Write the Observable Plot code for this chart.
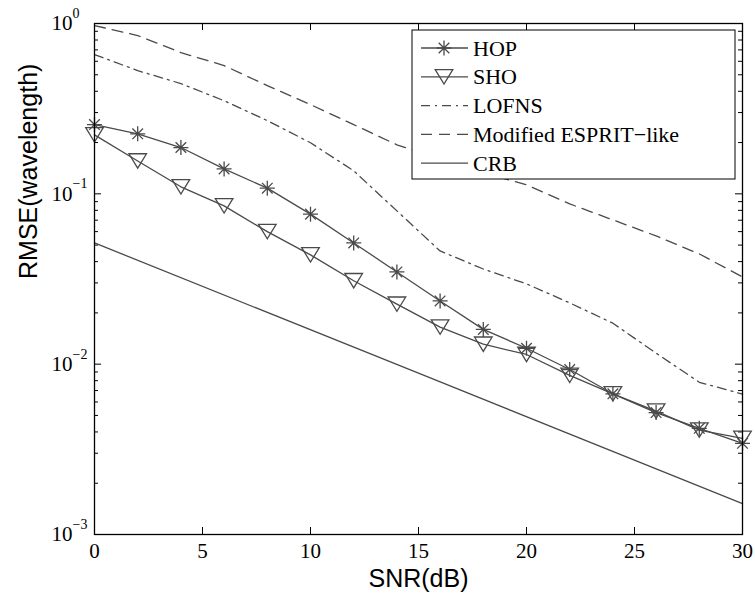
<!DOCTYPE html>
<html><head><meta charset="utf-8">
<script src="https://cdn.jsdelivr.net/npm/d3@7"></script>
<script src="https://cdn.jsdelivr.net/npm/@observablehq/plot@0.6"></script>
<style>body{margin:0;background:#fff}</style>
</head><body><div id="chart"></div>
<script>
// ---- data ----
const snr    = [0, 2, 4, 6, 8, 10, 12, 14, 16, 18, 20, 22, 24, 26, 28, 30];
const hop    = [0.255, 0.225, 0.187, 0.140, 0.108, 0.076, 0.0515, 0.0348, 0.0235, 0.0160, 0.0124, 0.0093, 0.0067, 0.0052, 0.0042, 0.00343];
const sho    = [0.222, 0.156, 0.110, 0.085, 0.060, 0.0438, 0.0309, 0.0225, 0.0165, 0.0131, 0.0114, 0.0086, 0.0067, 0.0053, 0.0041, 0.00367];
const lofns  = [0.657, 0.529, 0.444, 0.352, 0.269, 0.1995, 0.1365, 0.0794, 0.0462, 0.0362, 0.0296, 0.0229, 0.0174, 0.0116, 0.00783, 0.00667];
const esprit = [0.973, 0.850, 0.675, 0.566, 0.432, 0.334, 0.255, 0.194, 0.161, 0.133, 0.113, 0.0873, 0.0703, 0.0566, 0.0444, 0.0325];
const crbSnr = [0, 15, 30];
const crb    = [0.0515, 0.00885, 0.00152];

const xTicks = [0, 5, 10, 15, 20, 25, 30];
const yTicks = [1e-3, 1e-2, 1e-1, 1];
const yExp   = ["\u22123", "\u22122", "\u22121", "0"];
const seriesNames = ["HOP", "SHO", "LOFNS", "Modified ESPRIT\u2212like", "CRB"];
const xLabel = "SNR(dB)";
const yLabel = "RMSE(wavelength)";

// ---- build tables ----
const tab = (xs, ys) => xs.map((s, i) => ({snr: s, v: ys[i]}));
const hopT = tab(snr, hop), shoT = tab(snr, sho), lofT = tab(snr, lofns), espT = tab(snr, esprit), crbT = tab(crbSnr, crb);
const yMinor = [];
for (const d of [1e-3, 1e-2, 1e-1]) for (let k = 2; k <= 9; k++) yMinor.push(d * k);

const ink = "#4a4a4a";
const serif = "'Liberation Serif', 'Times New Roman', serif";
const sans = "'Liberation Sans', Arial, sans-serif";

const asterisk8 = {draw(ctx, size) {
  const r = Math.sqrt(size / Math.PI), d = r * Math.SQRT1_2;
  ctx.moveTo(-r, 0); ctx.lineTo(r, 0); ctx.moveTo(0, -r); ctx.lineTo(0, r);
  ctx.moveTo(-d, -d); ctx.lineTo(d, d); ctx.moveTo(-d, d); ctx.lineTo(d, -d);
}};
const triDown = {draw(ctx, size) {
  const r = Math.sqrt(size / Math.PI);
  ctx.moveTo(-r * 1.1, -r * 0.9); ctx.lineTo(r * 1.1, -r * 0.9); ctx.lineTo(0, r * 0.9); ctx.closePath();
}};

const W = 755, H = 594, mL = 94, mR = 13, mT = 23, mB = 60;
const pw = W - mL - mR, ph = H - mT - mB;

const chart = Plot.plot({
  width: W, height: H,
  marginLeft: mL, marginRight: mR, marginTop: mT, marginBottom: mB,
  x: {domain: [0, 30], axis: null},
  y: {type: "log", domain: [1e-3, 1], axis: null},
  style: {background: "white", fontFamily: serif},
  marks: [
    // inward ticks
    Plot.ruleX(xTicks, {x: d => d, insetTop: ph - 7, stroke: "black", strokeWidth: 1}),
    Plot.ruleX(xTicks, {x: d => d, insetBottom: ph - 7, stroke: "black", strokeWidth: 1}),
    Plot.ruleY(yTicks, {y: d => d, insetRight: pw - 7, stroke: "black", strokeWidth: 1}),
    Plot.ruleY(yTicks, {y: d => d, insetLeft: pw - 7, stroke: "black", strokeWidth: 1}),
    Plot.ruleY(yMinor, {y: d => d, insetRight: pw - 4, stroke: "black", strokeWidth: 1}),
    Plot.ruleY(yMinor, {y: d => d, insetLeft: pw - 4, stroke: "black", strokeWidth: 1}),
    // data
    Plot.line(espT, {x: "snr", y: "v", stroke: ink, strokeWidth: 1.3, strokeDasharray: "11,7"}),
    Plot.line(lofT, {x: "snr", y: "v", stroke: ink, strokeWidth: 1.3, strokeDasharray: "9,5,2,5"}),
    Plot.line(crbT, {x: "snr", y: "v", stroke: ink, strokeWidth: 1.3}),
    Plot.line(shoT, {x: "snr", y: "v", stroke: ink, strokeWidth: 1.3}),
    Plot.line(hopT, {x: "snr", y: "v", stroke: ink, strokeWidth: 1.3}),
    Plot.dot(shoT, {x: "snr", y: "v", symbol: triDown, r: 8, fill: "none", stroke: ink, strokeWidth: 1.3}),
    Plot.dot(hopT, {x: "snr", y: "v", symbol: asterisk8, r: 7.5, fill: "none", stroke: ink, strokeWidth: 1.3}),
    Plot.frame({stroke: "black", strokeWidth: 1.3}),
    // tick labels
    Plot.text(xTicks, {x: d => d, text: d => String(d), frameAnchor: "bottom", lineAnchor: "top", dy: 9, fontSize: 21, fontFamily: serif, fill: "black"}),
    Plot.text(yTicks, {y: d => d, text: () => "10", frameAnchor: "left", textAnchor: "end", dx: -22, fontSize: 21, fontFamily: serif, fill: "black"}),
    Plot.text(yTicks, {y: d => d, text: (d, i) => yExp[i], frameAnchor: "left", textAnchor: "start", dx: -22, dy: -10, fontSize: 14, fontFamily: serif, fill: "black"}),
    // axis titles
    Plot.text([xLabel], {text: d => d, frameAnchor: "bottom", lineAnchor: "middle", dy: 44, fontSize: 25, fontFamily: sans, fill: "black"}),
    Plot.text([yLabel], {text: d => d, frameAnchor: "left", rotate: -90, dx: -66, fontSize: 25, fontFamily: sans, fill: "black"})
  ]
});
document.getElementById("chart").appendChild(chart);

// ---- legend ----
const svg = d3.select(chart.tagName.toLowerCase() === "svg" ? chart : chart.querySelector("svg"));
const lg = svg.append("g").attr("text-anchor", "start");
const lx = 412, ly = 30, lw = 323, lh = 149;
lg.append("rect").attr("x", lx).attr("y", ly).attr("width", lw).attr("height", lh)
  .attr("fill", "white").attr("stroke", "black").attr("stroke-width", 1);
const styles = [
  {dash: null, sym: asterisk8, r: 7.5},
  {dash: null, sym: triDown, r: 8},
  {dash: "9,5,2,5", sym: null},
  {dash: "11,7", sym: null},
  {dash: null, sym: null}
];
seriesNames.forEach((name, i) => {
  const yy = 48 + i * 28.8;
  lg.append("line").attr("x1", 421).attr("x2", 468).attr("y1", yy).attr("y2", yy)
    .attr("stroke", ink).attr("stroke-width", 1.3).attr("stroke-dasharray", styles[i].dash);
  if (styles[i].sym) {
    lg.append("path").attr("d", d3.symbol(styles[i].sym, Math.PI * styles[i].r ** 2)())
      .attr("transform", `translate(444,${yy})`).attr("fill", "none").attr("stroke", ink).attr("stroke-width", 1.3);
  }
  lg.append("text").attr("x", 473).attr("y", yy + 7.5).attr("text-anchor", "start")
    .attr("font-family", serif).attr("font-size", 22).attr("fill", "black").text(name);
});
</script>
</body></html>
